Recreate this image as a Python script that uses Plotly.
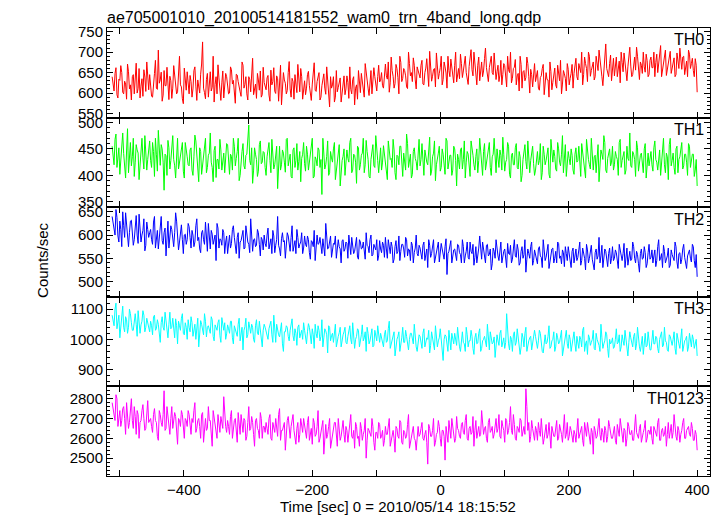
import plotly.graph_objects as go
from plotly.subplots import make_subplots

title_text = "ae705001010_20100514181552_wam0_trn_4band_long.qdp"
x_title = "Time [sec] 0 = 2010/05/14 18:15:52"
y_title = "Counts/sec"
band_names = ["TH0", "TH1", "TH2", "TH3", "TH0123"]
band_colors = ["#ff0000", "#00ff00", "#0000ff", "#00ffff", "#ff00ff"]
t_start = -512      # time of first bin in the *_a lists
t_step = 3          # spacing of bins within each list; *_b bins sit halfway between

th0_a = [
 640, 605, 662, 588, 631, 650, 598, 622, 671, 610, 583, 645, 628, 600, 660, 617, 592, 639, 676, 608,
 623, 590, 648, 612, 705, 632, 580, 655, 618, 600, 641, 587, 667, 622, 603, 690, 615, 574, 636, 652,
 598, 628, 610, 664, 582, 620, 646, 725, 601, 633, 590, 652, 614, 578, 640, 669, 607, 625, 588, 648,
 616, 600, 657, 631, 575, 644, 610, 592, 668, 621, 598, 640, 603, 685, 615, 587, 632, 654, 596, 626,
 608, 643, 580, 620, 662, 599, 635, 613, 571, 650, 624, 606, 677, 590, 628, 645, 601, 617, 660, 585,
 630, 612, 653, 596, 622, 674, 604, 639, 583, 618, 647, 597, 626, 566, 612, 640, 590, 603, 628, 578,
 615, 596, 642, 587, 609, 633, 571, 620, 655, 601, 628, 590, 646, 612, 636, 598, 662, 619, 640, 627,
 650, 612, 671, 634, 602, 688, 641, 623, 660, 598, 675, 636, 655, 615, 700, 642, 628, 668, 610, 652,
 637, 680, 620, 661, 645, 702, 629, 658, 615, 672, 648, 690, 633, 664, 612, 655, 683, 641, 668, 627,
 660, 695, 638, 672, 650, 621, 684, 657, 700, 642, 668, 630, 676, 654, 710, 639, 662, 690, 645, 670,
 652, 628, 680, 645, 667, 615, 657, 700, 636, 663, 620, 648, 690, 612, 655, 638, 672, 600, 645, 660,
 628, 655, 607, 642, 670, 618, 633, 590, 652, 626, 661, 612, 640, 680, 622, 647, 605, 658, 636, 670,
 648, 685, 632, 663, 700, 645, 672, 628, 690, 655, 676, 640, 662, 705, 650, 618, 681, 660, 640, 693,
 667, 642, 688, 655, 625, 675, 698, 650, 664, 712, 640, 672, 656, 690, 633, 668, 700, 651, 679, 645,
 688, 662, 640, 695, 670, 716, 655, 680, 643, 668, 702, 660, 686, 645, 675, 710, 658, 690, 667, 640,
 695, 672, 655, 684, 602,
]
th0_b = [
 615, 648, 596, 634, 667, 602, 629, 585, 652, 620, 640, 598, 673, 611, 588, 635, 657, 604, 626, 645,
 592, 637, 680, 609, 624, 651, 595, 618, 663, 584, 630, 612, 648, 598, 640, 620, 586, 661, 607, 629,
 643, 590, 655, 617, 632, 600, 671, 612, 586, 648, 626, 605, 690, 621, 598, 637, 582, 654, 613, 640,
 598, 664, 622, 589, 646, 628, 603, 676, 612, 640, 583, 633, 657, 596, 622, 648, 607, 590, 663, 618,
 637, 595, 656, 628, 604, 642, 580, 668, 617, 632, 598, 650, 610, 636, 585, 622, 670, 603, 640, 612,
 596, 645, 618, 582, 660, 607, 628, 650, 590, 634, 612, 664, 601, 640, 620, 578, 655, 614, 637, 598,
 642, 610, 626, 664, 598, 640, 612, 585, 630, 648, 606, 672, 618, 594, 655, 627, 640, 605, 668, 632,
 618, 660, 642, 676, 625, 655, 612, 670, 638, 690, 628, 660, 642, 611, 672, 650, 686, 632, 664, 640,
 668, 622, 650, 684, 616, 670, 641, 660, 698, 634, 662, 620, 676, 649, 690, 640, 664, 625, 700, 652,
 635, 672, 654, 690, 628, 665, 706, 642, 668, 620, 688, 655, 640, 684, 662, 628, 676, 650, 698, 633,
 668, 644, 620, 672, 638, 690, 650, 625, 660, 682, 642, 605, 670, 652, 630, 688, 640, 658, 615, 672,
 645, 612, 638, 660, 596, 650, 632, 676, 608, 645, 620, 668, 630, 598, 655, 636, 672, 620, 648, 612,
 662, 640, 672, 650, 620, 688, 660, 700, 641, 668, 632, 690, 655, 678, 640, 662, 720, 648, 672, 630,
 685, 660, 640, 678, 700, 652, 672, 630, 690, 666, 645, 688, 712, 660, 676, 648, 664, 695, 640, 680,
 662, 700, 675, 650, 682, 640, 670, 705, 656, 690, 648, 676, 640, 698, 660, 672, 688, 645, 678, 705,
 660, 685, 640, 668,
]

th1_a = [
 455, 420, 478, 430, 402, 465, 441, 395, 488, 436, 418, 470, 425, 448, 392, 460, 433, 475, 410, 445,
 428, 462, 398, 440, 485, 419, 450, 372, 437, 466, 412, 455, 430, 395, 470, 426, 448, 408, 462, 435,
 418, 452, 400, 476, 431, 388, 445, 420, 462, 405, 438, 480, 415, 447, 396, 430, 468, 410, 442, 425,
 458, 402, 436, 470, 418, 445, 390, 428, 460, 412, 440, 495, 420, 385, 452, 430, 408, 465, 425, 443,
 400, 450, 428, 468, 412, 438, 375, 455, 420, 442, 406, 470, 432, 398, 448, 415, 460, 426, 388, 440,
 422, 455, 410, 437, 470, 398, 430, 452, 415, 364, 440, 420, 465, 405, 433, 450, 392, 428, 458, 412,
 436, 400, 448, 425, 470, 410, 438, 385, 452, 420, 442, 405, 466, 430, 395, 448, 418, 475, 428, 440,
 410, 456, 425, 392, 445, 432, 468, 405, 438, 420, 455, 398, 430, 478, 415, 440, 402, 452, 426, 445,
 418, 460, 400, 435, 420, 472, 408, 442, 390, 428, 455, 415, 440, 402, 465, 425, 438, 410, 450, 380,
 430, 448, 412, 465, 425, 440, 398, 455, 420, 436, 405, 470, 428, 445, 410, 432, 462, 400, 440, 418,
 450, 415, 438, 472, 408, 430, 455, 395, 442, 420, 460, 412, 435, 400, 448, 426, 465, 405, 438, 422,
 410, 445, 428, 392, 455, 420, 440, 402, 468, 425, 436, 408, 450, 418, 475, 430, 398, 445, 420, 438,
 402, 452, 428, 412, 460, 435, 395, 445, 420, 470, 410, 438, 425, 388, 448, 430, 462, 405, 440, 418,
 455, 420, 436, 400, 468, 428, 445, 410, 432, 480, 415, 440, 398, 452, 425, 442, 405, 460, 430, 418,
 445, 408, 465, 425, 438, 400, 455, 420, 442, 392, 470, 428, 415, 450, 405, 435, 462, 418, 440, 400,
 455, 425, 440, 410, 380,
]
th1_b = [
 440, 468, 415, 452, 428, 480, 420, 446, 405, 462, 435, 398, 458, 442, 420, 470, 412, 450, 430, 465,
 415, 445, 470, 408, 432, 458, 425, 440, 400, 452, 428, 475, 418, 446, 412, 438, 462, 395, 440, 420,
 448, 410, 435, 465, 420, 452, 402, 438, 470, 415, 442, 425, 388, 455, 430, 412, 448, 436, 405, 460,
 425, 440, 410, 455, 432, 470, 400, 445, 418, 438, 462, 428, 452, 410, 440, 398, 458, 422, 445, 415,
 435, 462, 405, 440, 420, 455, 430, 410, 448, 425, 468, 418, 440, 395, 452, 428, 410, 445, 432, 462,
 408, 440, 425, 458, 395, 435, 418, 448, 430, 470, 412, 436, 400, 445, 425, 462, 410, 440, 380, 428,
 450, 418, 432, 462, 405, 440, 425, 455, 410, 438, 470, 420, 445, 398, 430, 458, 415, 438, 405, 452,
 425, 440, 408, 465, 430, 415, 448, 392, 436, 455, 420, 442, 410, 460, 428, 395, 445, 432, 410, 468,
 430, 412, 448, 425, 458, 400, 435, 465, 420, 442, 408, 450, 425, 470, 412, 438, 400, 455, 428, 440,
 412, 452, 430, 395, 445, 420, 465, 438, 410, 450, 428, 442, 400, 460, 425, 448, 415, 435, 470, 405,
 432, 448, 410, 440, 425, 462, 402, 438, 420, 452, 415, 445, 388, 430, 458, 412, 440, 428, 455, 400,
 438, 420, 460, 405, 440, 428, 452, 395, 435, 448, 412, 462, 425, 440, 405, 458, 420, 432, 450, 410,
 440, 425, 455, 398, 445, 420, 468, 430, 412, 448, 435, 405, 458, 420, 440, 475, 410, 432, 450, 425,
 410, 445, 430, 462, 415, 440, 402, 455, 428, 418, 445, 430, 465, 408, 438, 420, 450, 395, 442, 428,
 420, 452, 430, 410, 448, 425, 470, 405, 435, 458, 418, 442, 402, 455, 430, 448, 412, 440, 425, 460,
 415, 440, 398, 430,
]

th2_a = [
 640, 612, 655, 598, 630, 575, 620, 648, 590, 605, 632, 578, 615, 600, 645, 585, 610, 566, 628, 595,
 612, 580, 640, 598, 570, 620, 588, 605, 555, 630, 592, 612, 575, 648, 600, 585, 622, 560, 602, 590,
 618, 572, 600, 585, 635, 595, 562, 610, 580, 598, 625, 570, 602, 588, 545, 615, 592, 578, 605, 585,
 560, 600, 582, 620, 575, 595, 550, 588, 610, 572, 598, 580, 635, 565, 592, 578, 605, 555, 590, 600,
 575, 615, 585, 560, 598, 578, 640, 570, 592, 585, 550, 605, 578, 595, 565, 588, 612, 572, 585, 560,
 598, 575, 590, 548, 585, 610, 568, 580, 595, 560, 578, 625, 570, 588, 552, 582, 598, 565, 575, 540,
 590, 570, 582, 600, 558, 578, 565, 595, 548, 585, 572, 560, 605, 575, 590, 555, 580, 568, 545, 588,
 562, 578, 595, 550, 570, 585, 540, 575, 560, 598, 565, 580, 552, 590, 570, 545, 578, 562, 600, 555,
 572, 548, 585, 565, 530, 578, 560, 590, 550, 570, 542, 582, 560, 575, 515, 565, 588, 552, 570, 545,
 578, 558, 590, 540, 565, 552, 585, 560, 535, 575, 555, 598, 548, 568, 540, 580, 558, 525, 572, 550,
 565, 545, 585, 555, 570, 530, 560, 578, 548, 590, 552, 568, 540, 575, 558, 520, 570, 550, 585, 545,
 560, 538, 575, 552, 590, 545, 565, 528, 558, 572, 550, 540, 582, 555, 568, 532, 560, 575, 548, 565,
 540, 570, 552, 585, 545, 560, 525, 568, 550, 578, 538, 562, 548, 595, 555, 530, 570, 545, 560, 538,
 575, 550, 562, 528, 568, 545, 582, 552, 535, 565, 548, 575, 540, 558, 520, 570, 550, 562, 538, 580,
 552, 540, 568, 545, 590, 550, 530, 565, 548, 572, 535, 558, 545, 575, 528, 562, 548, 580, 540, 555,
 568, 542, 575, 530, 510,
]
th2_b = [
 625, 600, 638, 585, 612, 650, 595, 618, 575, 630, 605, 590, 642, 582, 620, 600, 635, 578, 612, 605,
 590, 628, 572, 610, 595, 640, 580, 615, 598, 572, 620, 585, 605, 630, 568, 612, 590, 600, 580, 625,
 595, 610, 575, 620, 588, 570, 605, 590, 628, 565, 595, 610, 580, 600, 625, 572, 590, 612, 560, 598,
 588, 572, 612, 595, 560, 605, 585, 598, 570, 620, 585, 562, 600, 590, 575, 612, 580, 595, 568, 582,
 600, 570, 592, 610, 562, 590, 578, 555, 605, 588, 575, 598, 565, 620, 582, 560, 595, 580, 605, 572,
 580, 598, 562, 588, 575, 545, 600, 582, 568, 592, 555, 585, 572, 598, 565, 580, 550, 590, 570, 588,
 565, 585, 550, 572, 595, 560, 580, 552, 590, 570, 585, 548, 578, 562, 600, 558, 575, 590, 555, 570,
 585, 552, 570, 590, 560, 575, 548, 588, 565, 545, 580, 570, 595, 555, 568, 585, 540, 572, 560, 578,
 558, 578, 545, 570, 590, 552, 575, 540, 565, 585, 558, 570, 548, 592, 560, 575, 540, 568, 555, 580,
 562, 540, 575, 555, 585, 548, 565, 580, 552, 540, 572, 560, 585, 545, 578, 555, 570, 538, 565, 590,
 555, 575, 540, 565, 548, 582, 558, 540, 570, 555, 580, 535, 565, 550, 590, 548, 560, 575, 535, 568,
 548, 570, 555, 530, 568, 552, 580, 545, 570, 540, 565, 585, 550, 538, 562, 575, 545, 555, 530, 572,
 555, 545, 568, 535, 572, 550, 580, 540, 562, 548, 525, 570, 555, 540, 578, 550, 565, 532, 572, 550,
 545, 568, 540, 580, 552, 560, 530, 572, 558, 545, 585, 550, 565, 538, 560, 548, 575, 530, 562, 548,
 568, 555, 532, 575, 545, 560, 578, 540, 555, 530, 568, 550, 585, 542, 560, 538, 570, 552, 528, 565,
 550, 580, 545, 558,
]

th3_a = [
 1080, 1045, 1120, 1060, 1005, 1090, 1040, 1075, 1020, 1100, 1055, 1030, 1085, 1010, 1065, 1048, 1095, 1025, 1070, 1040,
 1060, 1015, 1080, 1035, 1050, 990, 1075, 1030, 1058, 1005, 1090, 1040, 1022, 1068, 985, 1045, 1070, 1020, 1055, 1000,
 1040, 1075, 1010, 1050, 1030, 975, 1062, 1025, 1085, 1008, 1045, 1020, 1065, 995, 1038, 1055, 1012, 1072, 1030, 1000,
 1048, 1020, 1060, 985, 1035, 1010, 1070, 1025, 965, 1042, 1005, 1058, 1020, 1040, 990, 1065, 1015, 1032, 975, 1050,
 1022, 1000, 1045, 1015, 1080, 990, 1030, 1008, 1055, 960, 1025, 1040, 995, 1060, 1012, 1035, 980, 1048, 1018, 1000,
 1030, 985, 1052, 1010, 1035, 970, 1020, 1045, 995, 1065, 1005, 1028, 955, 1040, 1012, 990, 1050, 1000, 1022, 975,
 1015, 1040, 985, 1025, 1000, 1055, 970, 1010, 1030, 990, 1048, 1005, 960, 1020, 995, 1035, 980, 1012, 1045, 990,
 1005, 975, 1030, 995, 1060, 985, 1015, 945, 1000, 1025, 980, 1040, 990, 1010, 965, 1020, 1000, 1050, 975, 995,
 1010, 970, 1035, 990, 1000, 955, 1025, 985, 1045, 975, 1005, 990, 930, 1015, 980, 1030, 965, 998, 1020, 980,
 1000, 960, 1025, 985, 1040, 975, 995, 1010, 950, 1020, 988, 1035, 970, 1000, 985, 1050, 965, 1008, 990, 940,
 1015, 980, 1030, 995, 970, 1085, 985, 1010, 960, 1025, 990, 1000, 950, 1020, 975, 1040, 985, 1005, 965, 995,
 1010, 970, 1030, 985, 955, 1015, 990, 1045, 975, 1000, 960, 1020, 985, 1008, 945, 995, 1030, 970, 1000, 980,
 1025, 960, 995, 1010, 975, 1040, 985, 950, 1005, 990, 1030, 965, 1000, 980, 1050, 970, 995, 1015, 940, 985,
 1005, 975, 1035, 990, 960, 1015, 980, 1000, 945, 1025, 985, 1010, 965, 1040, 975, 995, 950, 1020, 980, 1000,
 965, 1030, 985, 1005, 955, 1015, 975, 1040, 990, 960, 1010, 980, 1025, 950, 995, 970, 1035, 985, 1000, 960,
 1020, 975, 1000, 985, 945,
]
th3_b = [
 1060, 1100, 1035, 1080, 1050, 1110, 1025, 1065, 1040, 1085, 1030, 1070, 1050, 1095, 1020, 1060, 1080, 1040, 1055, 1025,
 1045, 1075, 1030, 1065, 1010, 1055, 1040, 1090, 1020, 1050, 1035, 1070, 1005, 1045, 1060, 1030, 1085, 1015, 1040, 1065,
 1025, 1055, 1040, 1000, 1070, 1035, 1050, 1015, 1060, 1040, 1025, 1075, 1010, 1048, 1030, 1065, 990, 1040, 1055, 1018,
 1035, 1060, 1005, 1045, 1025, 1050, 995, 1040, 1030, 1070, 1015, 1035, 1050, 1000, 1045, 1020, 1060, 1005, 1030, 1040,
 1010, 1035, 1060, 990, 1030, 1050, 1015, 1040, 985, 1025, 1045, 1010, 1030, 1068, 995, 1020, 1040, 1005, 1030, 1055,
 1000, 1025, 1040, 985, 1015, 1050, 1005, 1030, 1010, 975, 1035, 1015, 1045, 995, 1020, 1030, 975, 1010, 1040, 1000,
 1025, 990, 1010, 1045, 985, 1020, 1000, 1035, 975, 1015, 995, 1025, 1040, 985, 1010, 975, 1030, 995, 1005, 1020,
 985, 1015, 990, 1035, 970, 1000, 1025, 985, 1010, 960, 1005, 990, 1030, 975, 1000, 1020, 985, 1005, 960, 1015,
 990, 1020, 975, 1005, 1030, 980, 1000, 965, 1015, 995, 1035, 980, 1000, 1010, 960, 995, 1020, 985, 1000, 1040,
 975, 1010, 990, 960, 1015, 995, 1030, 970, 1005, 985, 1020, 960, 995, 1010, 975, 1000, 1025, 985, 1008, 970,
 995, 1020, 975, 1005, 990, 1025, 965, 1000, 1015, 980, 1035, 990, 975, 1005, 1020, 960, 995, 1010, 985, 1030,
 980, 995, 1020, 960, 1000, 985, 1010, 970, 995, 1025, 975, 1005, 990, 1030, 965, 1000, 985, 1015, 960, 995,
 985, 1010, 970, 1000, 1030, 960, 995, 1015, 980, 1000, 970, 1020, 990, 960, 1005, 985, 1025, 970, 1000, 990,
 970, 1000, 985, 1015, 975, 995, 1030, 960, 990, 1005, 975, 1020, 985, 1000, 960, 1010, 990, 975, 1025, 965,
 995, 985, 1010, 970, 1000, 1025, 980, 995, 965, 1015, 990, 1000, 970, 1020, 985, 1005, 960, 995, 1010, 975,
 990, 1015, 970, 1000,
]

th0123_a = [
 2780, 2700, 2820, 2660, 2740, 2690, 2760, 2620, 2720, 2680, 2800, 2650, 2710, 2740, 2600, 2690, 2770, 2640, 2720, 2680,
 2700, 2630, 2750, 2680, 2590, 2720, 2660, 2840, 2650, 2700, 2620, 2760, 2680, 2710, 2570, 2690, 2740, 2640, 2700, 2660,
 2720, 2620, 2680, 2780, 2650, 2700, 2600, 2730, 2670, 2640, 2760, 2690, 2560, 2700, 2650, 2720, 2630, 2680, 2810, 2660,
 2690, 2620, 2740, 2650, 2700, 2580, 2670, 2720, 2630, 2690, 2610, 2760, 2650, 2680, 2560, 2700, 2640, 2730, 2600, 2660,
 2680, 2620, 2720, 2590, 2650, 2700, 2610, 2750, 2640, 2670, 2540, 2690, 2630, 2660, 2720, 2600, 2650, 2580, 2700, 2630,
 2660, 2600, 2710, 2630, 2570, 2680, 2620, 2740, 2600, 2650, 2520, 2670, 2620, 2700, 2590, 2640, 2680, 2560, 2650, 2610,
 2690, 2580, 2640, 2620, 2720, 2600, 2550, 2660, 2610, 2680, 2590, 2640, 2500, 2650, 2620, 2700, 2580, 2630, 2600, 2670,
 2610, 2560, 2660, 2620, 2700, 2590, 2640, 2530, 2650, 2600, 2680, 2570, 2630, 2610, 2720, 2580, 2640, 2600, 2540, 2660,
 2620, 2680, 2590, 2640, 2470, 2650, 2610, 2700, 2580, 2630, 2660, 2560, 2640, 2490, 2620, 2690, 2600, 2650, 2580, 2710,
 2640, 2600, 2680, 2620, 2720, 2590, 2660, 2630, 2560, 2690, 2640, 2610, 2740, 2620, 2660, 2580, 2700, 2640, 2600, 2680,
 2630, 2720, 2600, 2660, 2580, 2690, 2640, 2760, 2620, 2670, 2590, 2650, 2700, 2610, 2660, 2850, 2640, 2580, 2690, 2620,
 2660, 2590, 2640, 2700, 2570, 2630, 2600, 2680, 2550, 2640, 2610, 2690, 2600, 2650, 2580, 2720, 2620, 2590, 2660, 2610,
 2640, 2580, 2700, 2620, 2660, 2560, 2630, 2680, 2600, 2650, 2520, 2640, 2610, 2700, 2590, 2630, 2660, 2580, 2690, 2620,
 2600, 2660, 2570, 2640, 2700, 2610, 2650, 2560, 2680, 2620, 2640, 2590, 2720, 2610, 2650, 2580, 2630, 2690, 2600, 2640,
 2660, 2570, 2640, 2610, 2700, 2590, 2650, 2620, 2560, 2680, 2630, 2600, 2720, 2610, 2660, 2580, 2640, 2700, 2600, 2650,
 2620, 2680, 2590, 2640, 2540,
]
th0123_b = [
 2740, 2690, 2800, 2710, 2660, 2750, 2700, 2780, 2650, 2730, 2690, 2760, 2620, 2720, 2680, 2740, 2700, 2650, 2790, 2690,
 2660, 2720, 2690, 2610, 2740, 2680, 2720, 2640, 2760, 2670, 2700, 2650, 2730, 2620, 2700, 2660, 2720, 2600, 2690, 2740,
 2650, 2700, 2740, 2630, 2690, 2660, 2720, 2580, 2700, 2650, 2690, 2620, 2740, 2680, 2600, 2670, 2710, 2650, 2690, 2630,
 2660, 2710, 2600, 2690, 2640, 2730, 2620, 2660, 2700, 2590, 2680, 2640, 2710, 2620, 2690, 2650, 2600, 2700, 2660, 2630,
 2650, 2700, 2600, 2680, 2630, 2660, 2720, 2590, 2640, 2680, 2620, 2710, 2600, 2690, 2640, 2570, 2680, 2620, 2660, 2700,
 2620, 2680, 2590, 2650, 2700, 2610, 2660, 2580, 2640, 2690, 2620, 2600, 2660, 2550, 2630, 2680, 2610, 2700, 2590, 2640,
 2620, 2660, 2580, 2690, 2610, 2640, 2680, 2600, 2560, 2650, 2620, 2700, 2590, 2640, 2610, 2660, 2540, 2630, 2680, 2600,
 2640, 2590, 2620, 2680, 2560, 2630, 2600, 2660, 2610, 2690, 2580, 2640, 2600, 2670, 2550, 2620, 2660, 2590, 2630, 2610,
 2650, 2600, 2620, 2580, 2670, 2610, 2640, 2560, 2620, 2690, 2600, 2640, 2610, 2660, 2580, 2630, 2700, 2620, 2600, 2650,
 2610, 2670, 2630, 2690, 2600, 2650, 2620, 2710, 2640, 2600, 2660, 2620, 2690, 2650, 2600, 2680, 2630, 2660, 2620, 2700,
 2650, 2610, 2690, 2640, 2700, 2620, 2680, 2640, 2720, 2600, 2660, 2630, 2690, 2650, 2620, 2760, 2680, 2610, 2650, 2590,
 2640, 2680, 2610, 2650, 2600, 2670, 2620, 2580, 2660, 2610, 2640, 2590, 2670, 2620, 2640, 2600, 2680, 2610, 2640, 2580,
 2620, 2660, 2600, 2640, 2590, 2680, 2610, 2650, 2570, 2630, 2660, 2600, 2680, 2620, 2650, 2580, 2640, 2610, 2660, 2600,
 2640, 2590, 2670, 2610, 2650, 2580, 2640, 2600, 2660, 2620, 2590, 2680, 2630, 2600, 2670, 2620, 2650, 2580, 2640, 2620,
 2600, 2660, 2620, 2680, 2590, 2640, 2610, 2660, 2620, 2600, 2670, 2630, 2650, 2590, 2640, 2620, 2680, 2600, 2640, 2660,
 2610, 2650, 2590, 2620,
]

series_a = [th0_a, th1_a, th2_a, th3_a, th0123_a]
series_b = [th0_b, th1_b, th2_b, th3_b, th0123_b]
y_ranges = [[540, 759], [340, 509], [467, 660], [844, 1141], [2410, 2862]]
y_dticks = [50, 50, 50, 100, 100]
y_minor = [10, 10, 10, 20, 20]
x_range = [-520, 420]

FONT = "Liberation Sans, Arial, Helvetica, sans-serif"

fig = make_subplots(rows=5, cols=1, shared_xaxes=True, vertical_spacing=0)

for i in range(5):
    a, b = series_a[i], series_b[i]
    xs, ys = [], []
    for k in range(len(a)):
        xs.append(t_start + t_step * k)
        ys.append(a[k])
        if k < len(b):
            xs.append(t_start + t_step * k + t_step / 2)
            ys.append(b[k])
    fig.add_trace(go.Scatter(x=xs, y=ys, mode="lines",
                             line=dict(color=band_colors[i], width=1),
                             showlegend=False, hoverinfo="skip"),
                  row=i + 1, col=1)
    fig.update_yaxes(range=y_ranges[i], dtick=y_dticks[i], ticks="inside", ticklen=6,
                     tickwidth=1, tickcolor="black", showline=True, linecolor="black",
                     linewidth=1, mirror="allticks", showgrid=False, zeroline=False,
                     minor=dict(dtick=y_minor[i], ticks="inside", ticklen=3,
                                tickcolor="black", showgrid=False),
                     tickfont=dict(size=15, color="black", family=FONT),
                     row=i + 1, col=1)
    fig.update_xaxes(range=x_range, dtick=200, tick0=0, ticks="inside", ticklen=6,
                     tickwidth=1, tickcolor="black", showline=True, linecolor="black",
                     linewidth=1, mirror="allticks", showgrid=False, zeroline=False,
                     minor=dict(dtick=100, tick0=0, ticks="inside", ticklen=6,
                                tickcolor="black", showgrid=False),
                     showticklabels=(i == 4),
                     tickfont=dict(size=15, color="black", family=FONT),
                     row=i + 1, col=1)
    yref = "y domain" if i == 0 else f"y{i + 1} domain"
    fig.add_annotation(text=band_names[i], xref="paper", yref=yref, x=0.993, y=0.985,
                       xanchor="right", yanchor="top", showarrow=False,
                       font=dict(size=16, color="black", family=FONT))

fig.add_annotation(text=x_title, xref="paper", yref="paper", x=0.482, y=-0.067,
                   xanchor="center", yanchor="middle", showarrow=False,
                   font=dict(size=15, color="black", family=FONT))

fig.add_annotation(text=y_title, xref="paper", yref="paper", x=-0.108, y=0.482,
                   xanchor="center", yanchor="middle", textangle=-90, showarrow=False,
                   font=dict(size=15, color="black", family=FONT))

# the page adds an 8 px body margin, so the figure is drawn 8 px smaller/offset
fig.update_layout(
    width=715, height=508,
    margin=dict(l=99, r=13, t=20, b=40, autoexpand=False),
    paper_bgcolor="white", plot_bgcolor="white",
    title=dict(text=title_text, x=99 / 715, xanchor="left", y=1 - 9 / 508,
               yanchor="middle", font=dict(size=16, color="black", family=FONT)),
    font=dict(family=FONT, color="black"),
)

fig.write_html("out.html")
